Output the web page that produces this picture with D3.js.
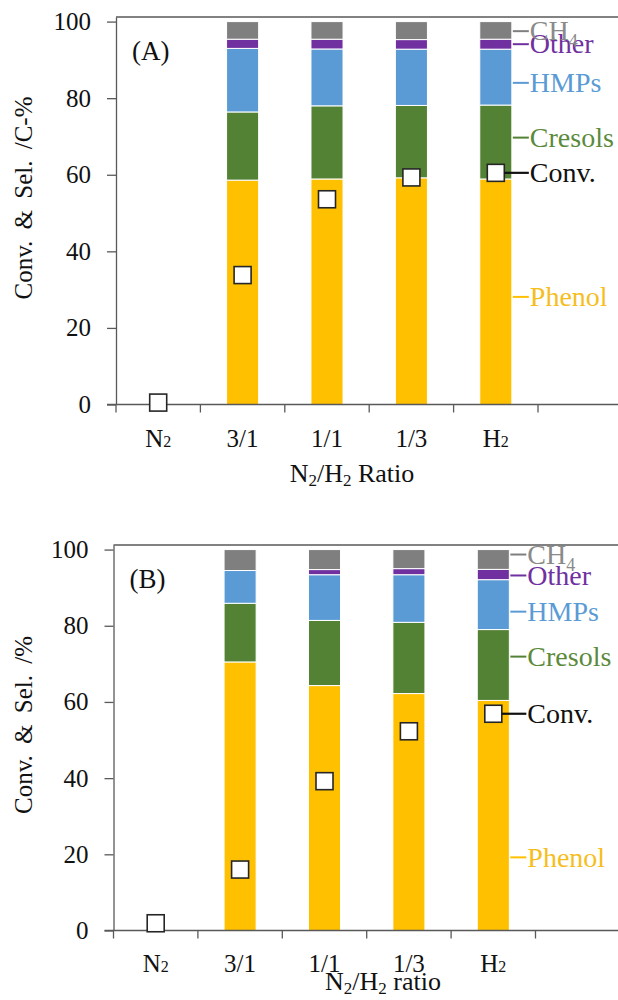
<!DOCTYPE html>
<html>
<head>
<meta charset="utf-8">
<script src="https://cdn.jsdelivr.net/npm/d3@7"></script>
<style>
  html, body { margin: 0; padding: 0; background: #fff; }
  svg { display: block; }
  text { font-family: "Liberation Serif", "DejaVu Serif", serif; }
</style>
</head>
<body>
<svg id="chart" width="618" height="1000"></svg>
<script>
// Gas atmosphere categories (last band is an empty spacer on the axis)
const categories = ["N2", "3/1", "1/1", "1/3", "H2", ""];
const seriesNames = ["Phenol", "Cresols", "HMPs", "Other", "CH4"];
const yTicks = [0, 20, 40, 60, 80, 100];

// Panel (A): selectivity per product, C-%
const phenolA  = [0, 58.6, 58.9, 59.2, 58.9];
const cresolsA = [0, 17.8, 19.1, 18.9, 19.3];
const hmpsA    = [0, 16.6, 14.85, 14.7, 14.6];
const otherA   = [0, 2.4, 2.55, 2.5, 2.6];
const ch4A     = [0, 4.6, 4.6, 4.7, 4.6];
const convA    = [0.5, 33.8, 53.6, 59.3, 60.5];
// where each series name sits on the value axis, bottom to top
const labelAtA = [28.1, 69.7, 84.0, 94.1, 97.5];

// Panel (B): selectivity per product, %
const phenolB  = [0, 70.5, 64.3, 62.2, 60.4];
const cresolsB = [0, 15.4, 17.1, 18.7, 18.6];
const hmpsB    = [0, 8.6, 12.0, 12.5, 13.1];
const otherB   = [0, 0, 1.35, 1.6, 2.7];
const ch4B     = [0, 5.5, 5.25, 5.0, 5.2];
const convB    = [1.9, 16.0, 39.2, 52.3, 56.9];
const labelAtB = [19.2, 71.9, 83.7, 93.2, 98.7];

const colors = {
  Phenol: "#ffc000",
  Cresols: "#548235",
  HMPs: "#5b9bd5",
  Other: "#7030a0",
  CH4: "#7f7f7f"
};
const textColors = {
  Phenol: "#f5be1e",
  Cresols: "#5b8a3c",
  HMPs: "#5b9bd5",
  Other: "#7030a0",
  CH4: "#8a8a8a"
};

const SERIF = "Liberation Serif, DejaVu Serif, serif";
const svg = d3.select("#chart").attr("font-family", SERIF);
const axisColor = "#595959";

function drawPanel(cfg) {
  const g = svg.append("g");
  const x = d3.scaleBand().domain(categories).range([cfg.left, cfg.left + 6 * 84.4]);
  const y = d3.scaleLinear().domain([0, 101.2]).range([cfg.bottom, cfg.top]);
  const barW = x.bandwidth() * 0.38;

  // stacked data
  const rows = categories.slice(0, 5).map((c, i) => {
    const r = { cat: c };
    cfg.series.forEach((s, k) => { r[seriesNames[k]] = s[i]; });
    return r;
  });
  const stacked = d3.stack().keys(seriesNames)(rows);

  stacked.forEach(layer => {
    g.append("g").selectAll("rect").data(layer).join("rect")
      .attr("x", d => x(d.data.cat) + (x.bandwidth() - barW) / 2)
      .attr("width", barW)
      .attr("y", d => y(d[1]))
      .attr("height", d => Math.max(0, y(d[0]) - y(d[1])))
      .attr("fill", colors[layer.key])
      .attr("stroke", d => (d[1] - d[0]) > 0 ? "#ffffff" : "none")
      .attr("stroke-width", 1);
  });

  // frame: top border
  g.append("line")
    .attr("x1", cfg.left).attr("x2", 618)
    .attr("y1", y(101.2)).attr("y2", y(101.2))
    .attr("stroke", axisColor).attr("stroke-width", 1.3);

  // y axis
  const yAxis = d3.axisLeft(y).tickValues(yTicks).tickSize(9).tickSizeOuter(0).tickPadding(16);
  const ya = g.append("g").attr("transform", `translate(${cfg.left},0)`).call(yAxis)
    .attr("font-family", SERIF);
  ya.select(".domain").attr("stroke", axisColor).attr("stroke-width", 1.3);
  ya.selectAll(".tick line").attr("stroke", axisColor).attr("stroke-width", 1.3);
  ya.selectAll(".tick text").attr("font-size", 25).attr("fill", "#111");

  // x axis: ticks at band boundaries
  const xa = g.append("g");
  xa.append("line")
    .attr("x1", cfg.left - 9).attr("x2", 618)
    .attr("y1", y(0)).attr("y2", y(0))
    .attr("stroke", axisColor).attr("stroke-width", 1.3);
  const bounds = categories.map(c => x(c)).concat([x(categories[5]) + x.bandwidth()]);
  xa.selectAll("line.tk").data(bounds).join("line").attr("class", "tk")
    .attr("x1", d => d).attr("x2", d => d)
    .attr("y1", y(0)).attr("y2", y(0) + 8)
    .attr("stroke", axisColor).attr("stroke-width", 1.3);
  categories.forEach(c => {
    if (!c) return;
    const t = xa.append("text")
      .attr("x", x(c) + x.bandwidth() / 2)
      .attr("y", cfg.tickLabelY)
      .attr("text-anchor", "middle")
      .attr("font-size", 25).attr("fill", "#111");
    if (c === "N2" || c === "H2") {
      t.append("tspan").text(c[0]);
      t.append("tspan").attr("font-size", 16).text("2");
    } else {
      t.text(c);
    }
  });

  // axis titles
  const xt = g.append("text")
    .attr("x", cfg.xTitleX).attr("y", cfg.xTitleY)
    .attr("text-anchor", "middle").attr("font-size", 26).attr("fill", "#111");
  xt.append("tspan").text("N");
  xt.append("tspan").attr("font-size", 17).attr("dy", 4).text("2");
  xt.append("tspan").attr("dy", -4).text("/H");
  xt.append("tspan").attr("font-size", 17).attr("dy", 4).text("2");
  xt.append("tspan").attr("dy", -4).text(" " + cfg.xTitleWord);

  g.append("text")
    .attr("transform", `translate(32,${cfg.yTitleY}) rotate(-90)`)
    .attr("text-anchor", "middle").attr("font-size", 25).attr("fill", "#111")
    .attr("word-spacing", 5)
    .text(cfg.yTitle);

  // panel tag
  g.append("text")
    .attr("x", cfg.left + 16).attr("y", y(101.2) + 43)
    .attr("font-size", 27).attr("fill", "#111")
    .text(cfg.tag);

  // conversion markers
  const sq = 17;
  g.append("g").selectAll("rect").data(cfg.conv).join("rect")
    .attr("x", (d, i) => x(categories[i]) + x.bandwidth() / 2 - sq / 2)
    .attr("y", d => y(d) - sq / 2)
    .attr("width", sq).attr("height", sq)
    .attr("fill", "#fff").attr("stroke", "#262626").attr("stroke-width", 1.6);

  // series labels with leader lines beside the last bar
  const lastCat = categories[4];
  const barRight = x(lastCat) + (x.bandwidth() + barW) / 2;
  const lineEnd = barRight + 17;
  seriesNames.forEach((name, k) => {
    const yy = y(cfg.labelAt[k]);
    g.append("line")
      .attr("x1", barRight + 1).attr("x2", lineEnd)
      .attr("y1", yy).attr("y2", yy)
      .attr("stroke", colors[name]).attr("stroke-width", 2);
    const t = g.append("text")
      .attr("x", lineEnd + 1).attr("y", yy).attr("dy", "0.33em")
      .attr("font-size", 28).attr("fill", textColors[name]);
    if (name === "CH4") {
      t.append("tspan").text("CH");
      t.append("tspan").attr("font-size", 18).attr("dy", 7).text("4");
    } else {
      t.text(name);
    }
  });
  const convLast = cfg.conv[4];
  g.append("line")
    .attr("x1", x(lastCat) + x.bandwidth() / 2 + sq / 2).attr("x2", lineEnd)
    .attr("y1", y(convLast)).attr("y2", y(convLast))
    .attr("stroke", "#111").attr("stroke-width", 2.2);
  g.append("text")
    .attr("x", lineEnd + 1).attr("y", y(convLast)).attr("dy", "0.33em")
    .attr("font-size", 28).attr("fill", "#111")
    .text("Conv.");
}

drawPanel({
  tag: "(A)",
  left: 116, top: 17, bottom: 404.5,
  series: [phenolA, cresolsA, hmpsA, otherA, ch4A],
  conv: convA, labelAt: labelAtA,
  tickLabelY: 447, xTitleX: 352, xTitleY: 482, xTitleWord: "Ratio",
  yTitle: "Conv. & Sel. /C-%", yTitleY: 198
});

drawPanel({
  tag: "(B)",
  left: 113.5, top: 545, bottom: 930.5,
  series: [phenolB, cresolsB, hmpsB, otherB, ch4B],
  conv: convB, labelAt: labelAtB,
  tickLabelY: 972, xTitleX: 383, xTitleY: 990, xTitleWord: "ratio",
  yTitle: "Conv. & Sel. /%", yTitleY: 725
});
</script>
</body>
</html>
